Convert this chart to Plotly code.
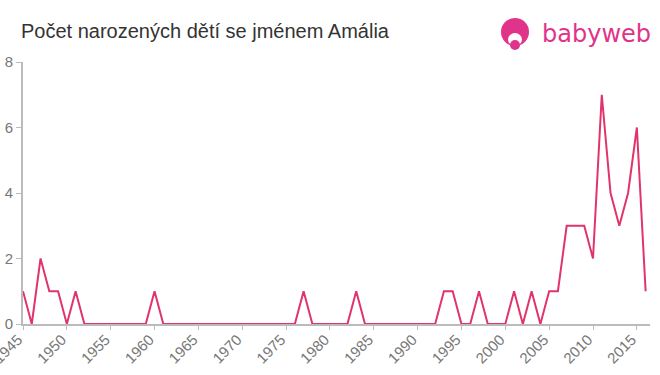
import plotly.graph_objects as go

years = list(range(1945, 2017))
counts = [1, 0, 2, 1, 1, 0, 1, 0, 0, 0,   # 1945-1954
          0, 0, 0, 0, 0, 1, 0, 0, 0, 0,   # 1955-1964
          0, 0, 0, 0, 0, 0, 0, 0, 0, 0,   # 1965-1974
          0, 0, 1, 0, 0, 0, 0, 0, 1, 0,   # 1975-1984
          0, 0, 0, 0, 0, 0, 0, 0, 1, 1,   # 1985-1994
          0, 0, 1, 0, 0, 0, 1, 0, 1, 0,   # 1995-2004
          1, 1, 3, 3, 3, 2, 7, 4, 3, 4,   # 2005-2014
          6, 1]                           # 2015-2016
x_ticks = list(range(1945, 2016, 5))
y_ticks = [0, 2, 4, 6, 8]

title_text = "Počet narozených dětí se jménem Amália"
logo_text = "babyweb"

line_color = "#e0356b"
logo_color = "#e0338a"
axis_color = "#bbbbbb"
tick_font_color = "#777777"

W, H = 660, 375
L, R, T, B = 23, 10, 62, 51
PW, PH = W - L - R, H - T - B


def px(x):
    return (x - L) / PW


def py(y):
    return (H - B - y) / PH


fig = go.Figure()
fig.add_trace(go.Scatter(
    x=years, y=counts, mode="lines",
    line=dict(color=line_color, width=2),
    hoverinfo="x+y", showlegend=False,
))

fig.update_layout(
    width=W, height=H,
    margin=dict(l=L, r=R, t=T, b=B, autoexpand=False),
    paper_bgcolor="white", plot_bgcolor="white",
    font=dict(family="Liberation Sans, Arial, sans-serif"),
    xaxis=dict(
        range=[1945, 2016.5], tickmode="array", tickvals=x_ticks,
        ticktext=[str(v) for v in x_ticks], tickangle=-45, automargin=False,
        ticklabeloverflow="allow", ticklabelshift=-5,
        showgrid=False, zeroline=False, showline=True, linecolor=axis_color, linewidth=2,
        ticks="outside", ticklen=4, tickcolor=axis_color, tickwidth=1,
        tickfont=dict(size=15, color=tick_font_color),
    ),
    yaxis=dict(
        range=[0, 8], tickmode="array", tickvals=y_ticks, automargin=False,
        ticklabeloverflow="allow",
        showgrid=False, zeroline=False, showline=True, linecolor=axis_color, linewidth=2,
        ticks="outside", ticklen=5, tickcolor=axis_color, tickwidth=1,
        tickfont=dict(size=15, color=tick_font_color),
    ),
)
try:
    fig.update_xaxes(ticklabelstandoff=-5)
except Exception:
    pass

fig.add_annotation(text=title_text, xref="paper", yref="paper",
                   x=px(19), y=py(31), xanchor="left", yanchor="middle",
                   showarrow=False, font=dict(size=20, color="#333333"))

# logo
fig.add_shape(type="circle", xref="paper", yref="paper",
              x0=px(501), x1=px(529), y0=py(46), y1=py(18),
              fillcolor=logo_color, line=dict(width=0))
fig.add_shape(type="circle", xref="paper", yref="paper",
              x0=px(508), x1=px(522), y0=py(46), y1=py(33),
              fillcolor="white", line=dict(width=0))
fig.add_shape(type="circle", xref="paper", yref="paper",
              x0=px(510), x1=px(520), y0=py(50), y1=py(40),
              fillcolor=logo_color, line=dict(width=0))
fig.add_annotation(text=logo_text, xref="paper", yref="paper",
                   x=px(540), y=py(34), xanchor="left", yanchor="middle",
                   showarrow=False, font=dict(size=24, color=logo_color,
                                              family="DejaVu Sans, sans-serif"))

fig.write_html("out.html", config={"displayModeBar": False},
               post_script="document.body.style.margin='0';document.body.style.overflow='hidden';")
